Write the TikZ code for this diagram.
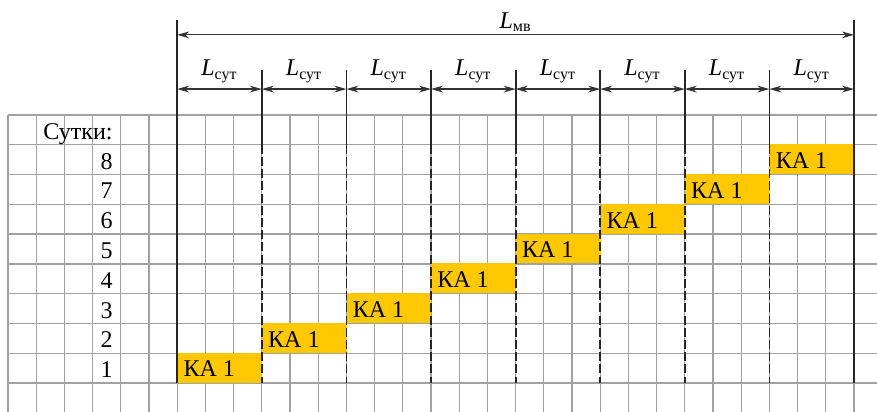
\documentclass[tikz,border=0pt]{standalone}
\usepackage{fontspec}
\setmainfont{Liberation Serif}
\usetikzlibrary{arrows.meta,positioning}
\definecolor{kagold}{RGB}{255,200,0}

\begin{document}
\begin{tikzpicture}[x=14.1pt,y=14.89pt,font=\fontsize{12}{14}\selectfont,
    cell/.style={black!37,line width=0.65pt},
    daymark/.style={black!85,line width=0.9pt},
    dimarrow/.style={black!80,line width=0.6pt,{Stealth[length=6pt,width=3.4pt]}-{Stealth[length=6pt,width=3.4pt]}},
    kabox/.style={fill=kagold,anchor=south west,inner sep=0pt,minimum width=42.3pt,minimum height=14.89pt},
    txt/.style={inner sep=0pt}]

  \useasboundingbox (-0.284,-0.974) rectangle (30.816,12.861);
  \begin{scope}
    \clip (-0.284,-0.974) rectangle (30.816,12.861);
    \foreach \i in {0,...,30} \draw[cell] (\i,-1) -- (\i,9);
    \foreach \j in {0,...,9} \draw[cell] (0,\j) -- (31,\j);
  \end{scope}

  \node[txt,anchor=base east] (sutki) at (3.72,8.18) {Сутки:};
  \foreach \d in {1,...,8} {
    \node[txt,anchor=base east] (day\d) at (3.72,\d-0.82) {\d};
    \node[kabox] (ka\d) at ({3*\d+3},\d-1) {};
    \node[txt,anchor=base west] (katext\d) at ([xshift=3pt,yshift=3pt]ka\d.south west) {КА 1};
  }

  \foreach \x in {9,12,...,27} {
    \draw[daymark] (\x,10.5) -- (\x,8);
    \draw[daymark,dash pattern=on 4.5pt off 1.6pt] (\x,8) -- (\x,0);
  }
  \draw[daymark] (6,12.2) -- (6,0) (30,12.2) -- (30,0);

  \coordinate (mvL) at (6,11.69);
  \coordinate (mvR) at (30,11.69);
  \draw[dimarrow] (mvL) -- (mvR);
  \node[txt,anchor=base] (lmv) at (18,11.92) {\textit{L}\textsubscript{мв}};

  \foreach \i in {0,...,8} \coordinate (s\i) at ({3*\i+6},9.87);
  \foreach \i [count=\j] in {0,...,7} {
    \draw[dimarrow] (s\i) -- (s\j);
    \node[txt,anchor=base] (lsut\j) at ({3*\i+7.5},10.31) {\textit{L}\textsubscript{сут}};
  }
\end{tikzpicture}
\end{document}
